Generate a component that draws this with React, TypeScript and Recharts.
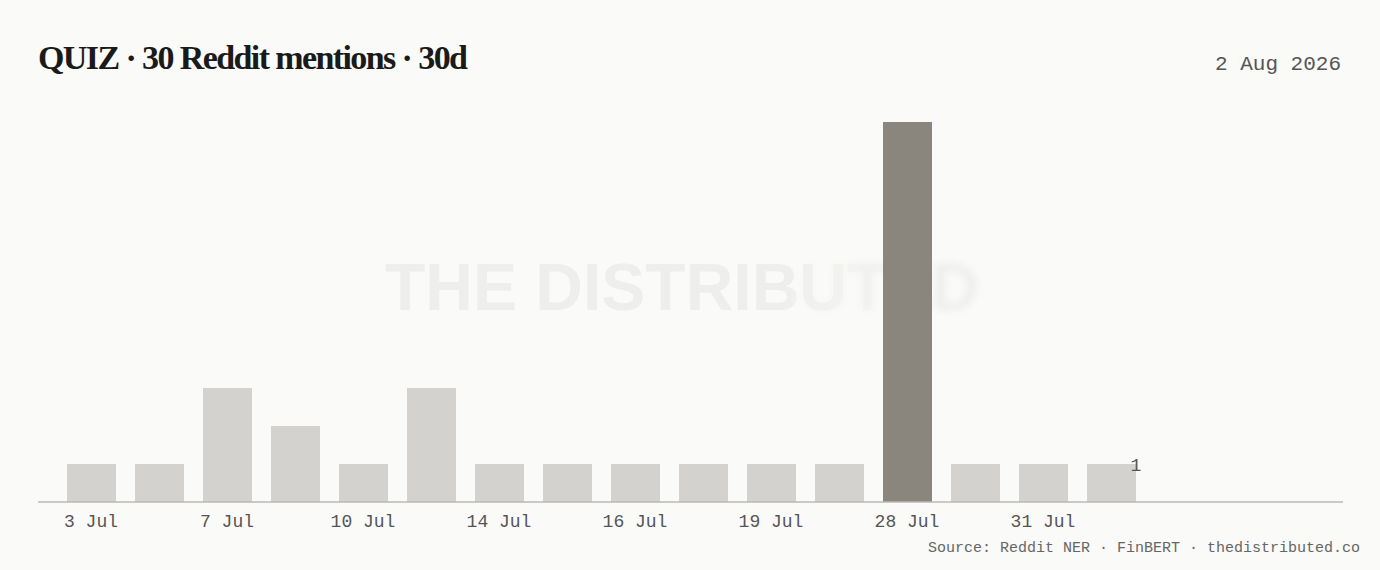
import { Bar, BarChart, Cell, LabelList, XAxis, YAxis } from "recharts";

const days = [
  "3 Jul", "5 Jul", "7 Jul", "8 Jul", "10 Jul", "12 Jul", "14 Jul", "15 Jul",
  "16 Jul", "18 Jul", "19 Jul", "22 Jul", "28 Jul", "30 Jul", "31 Jul", "1 Aug",
];
const mentions = [1, 1, 3, 2, 1, 3, 1, 1, 1, 1, 1, 1, 10, 1, 1, 1];

const title = "QUIZ · 30 Reddit mentions · 30d";
const asOf = "2 Aug 2026";
const source = "Source: Reddit NER · FinBERT · thedistributed.co";
const watermark = "THE DISTRIBUTED";

const BG = "#fafaf8";
const BAR = "#d3d2ce";
const PEAK = "#8a857d";
const MONO = "'Liberation Mono', 'DejaVu Sans Mono', monospace";

const data = days.map((day, i) => ({ day, value: mentions[i] }));
const peak = Math.max(...mentions);

function LastLabel(props: any) {
  const { x, y, width, value, index } = props;
  if (index !== data.length - 1) return null;
  return (
    <text
      x={x + width}
      y={y + 2}
      textAnchor="middle"
      dominantBaseline="central"
      fill="#555"
      fontSize={18}
      fontFamily={MONO}
    >
      {value}
    </text>
  );
}

export default function App() {
  return (
    <div style={{ position: "absolute", left: 0, top: 0, width: 1380, height: 570, background: BG }}>
      <svg width={1380} height={570} style={{ position: "absolute", left: 0, top: 0 }}>
        <defs>
          <linearGradient id="wmSharp" gradientUnits="userSpaceOnUse" x1={385} x2={985} y1={0} y2={0}>
            <stop offset="0.66" stopColor="#fff" />
            <stop offset="0.86" stopColor="#000" />
          </linearGradient>
          <linearGradient id="wmSoft" gradientUnits="userSpaceOnUse" x1={385} x2={985} y1={0} y2={0}>
            <stop offset="0.66" stopColor="#000" />
            <stop offset="0.86" stopColor="#fff" />
          </linearGradient>
          <mask id="maskSharp">
            <rect x={0} y={0} width={1380} height={570} fill="url(#wmSharp)" />
          </mask>
          <mask id="maskSoft">
            <rect x={0} y={0} width={1380} height={570} fill="url(#wmSoft)" />
          </mask>
          <filter id="wmBlur" x="-10%" y="-30%" width="120%" height="160%">
            <feGaussianBlur stdDeviation="3.5" />
          </filter>
        </defs>
        <g fontFamily="'Liberation Sans', Arial, sans-serif" fontWeight="bold" fontSize={66} fill="#eeeeec">
          <text x={385} y={310} mask="url(#maskSharp)">{watermark}</text>
          <g mask="url(#maskSoft)">
            <text x={385} y={310} filter="url(#wmBlur)">{watermark}</text>
          </g>
        </g>
        <text
          x={38}
          y={69}
          fontFamily="'Liberation Serif', serif"
          fontWeight="bold"
          fontSize={34}
          letterSpacing={-1.6}
          fill="#1a1a1a"
        >
          {title}
        </text>
        <text x={1341} y={70} textAnchor="end" fontFamily={MONO} fontSize={21} fill="#555">
          {asOf}
        </text>
        <text x={1360} y={552} textAnchor="end" fontFamily={MONO} fontSize={15} fill="#666">
          {source}
        </text>
      </svg>
      <div style={{ position: "absolute", left: 0, top: 0 }}>
        <BarChart width={1380} height={570} data={data} margin={{ top: 122, right: 37, bottom: 38, left: 38 }}>
          <XAxis
            dataKey="day"
            interval={1}
            height={30}
            padding={{ left: 19, right: 198 }}
            tickLine={false}
            tickSize={0}
            tickMargin={12}
            axisLine={{ stroke: "#bab9b5", strokeWidth: 1.5 }}
            tick={{ fill: "#555", fontSize: 18, fontFamily: MONO }}
          />
          <YAxis hide domain={[0, peak]} />
          <Bar dataKey="value" barSize={49} isAnimationActive={false}>
            {data.map((d, i) => (
              <Cell key={i} fill={d.value === peak ? PEAK : BAR} />
            ))}
            <LabelList dataKey="value" content={LastLabel} />
          </Bar>
        </BarChart>
      </div>
    </div>
  );
}
